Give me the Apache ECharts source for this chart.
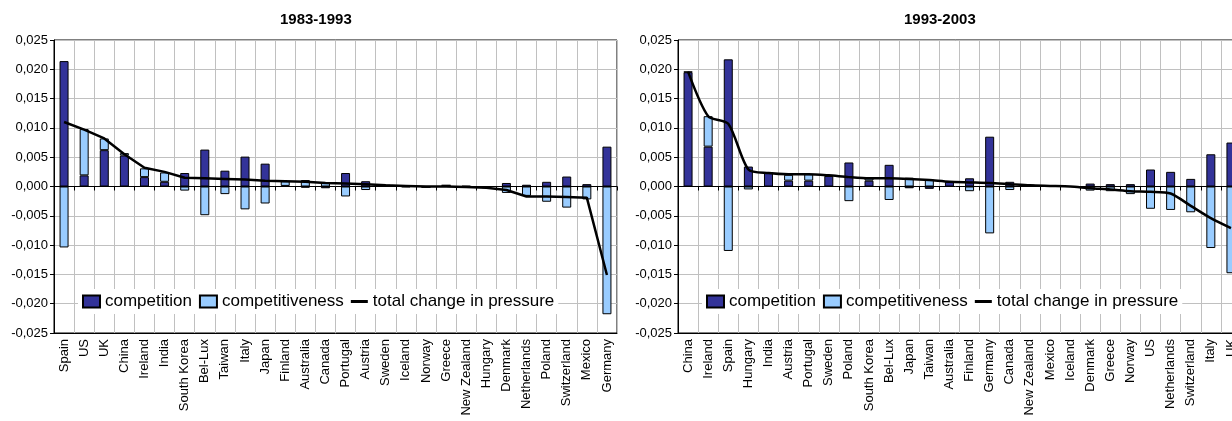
<!DOCTYPE html>
<html>
<head>
<meta charset="utf-8">
<script src="https://cdn.jsdelivr.net/npm/echarts@6/dist/echarts.min.js"></script>
<style>
html,body{margin:0;padding:0;background:#fff;}
#chart{width:1232px;height:421px;}
</style>
</head>
<body>
<div id="chart"></div>
<script>
// ---- Data ----
const titles = ['1983-1993', '1993-2003'];
const seriesNames = ['competition', 'competitiveness', 'total change in pressure'];

const categories1 = ['Spain','US','UK','China','Ireland','India','South Korea','Bel-Lux','Taiwan','Italy','Japan','Finland','Australia','Canada','Portugal','Austria','Sweden','Iceland','Norway','Greece','New Zealand','Hungary','Denmark','Netherlands','Poland','Switzerland','Mexico','Germany'];
const competition1 = [0.0214, 0.0019, 0.0062, 0.0053, 0.0016, 0.0008, 0.0023, 0.0063, 0.0027, 0.0051, 0.0039, 0.0001, -0.0002, -0.0003, 0.0023, 0.0009, 0.0002, 0.0001, -0.0001, 0.0002, 0.0001, -0.0001, 0.0006, 0.0003, 0.0008, 0.0017, 0.0004, 0.0068];
const competitiveness1 = [-0.0104, 0.0079, 0.0020, 0.0004, 0.0015, 0.0016, -0.0007, -0.0049, -0.0013, -0.0039, -0.0029, 0.0008, 0.0011, 0.0006, -0.0017, -0.0006, 0.0000, -0.0001, 0.0000, 0.0000, -0.0001, -0.0002, -0.0011, -0.0016, -0.0026, -0.0036, -0.0022, -0.0218];
const total1 = [0.0110, 0.0097, 0.0082, 0.0055, 0.0032, 0.0025, 0.0015, 0.0014, 0.0013, 0.0012, 0.0010, 0.0009, 0.0008, 0.0006, 0.0005, 0.0004, 0.0002, 0.0001, 0.0000, 0.0000, -0.0001, -0.0002, -0.0006, -0.0017, -0.0017, -0.0018, -0.0019, -0.0151];

const categories2 = ['China','Ireland','Spain','Hungary','India','Austria','Portugal','Sweden','Poland','South Korea','Bel-Lux','Japan','Taiwan','Australia','Finland','Germany','Canada','New Zealand','Mexico','Iceland','Denmark','Greece','Norway','US','Netherlands','Switzerland','Italy','UK'];
const competition2 = [0.0195, 0.0068, 0.0217, 0.0034, 0.0023, 0.0010, 0.0010, 0.0018, 0.0041, 0.0010, 0.0037, -0.0003, -0.0004, 0.0008, 0.0014, 0.0085, 0.0008, 0.0002, 0.0001, 0.0000, 0.0005, 0.0004, 0.0004, 0.0029, 0.0025, 0.0013, 0.0055, 0.0075];
const competitiveness2 = [0.0001, 0.0052, -0.0110, -0.0005, 0.0000, 0.0010, 0.0011, 0.0001, -0.0025, 0.0004, -0.0023, 0.0015, 0.0012, 0.0001, -0.0008, -0.0080, -0.0006, 0.0000, 0.0000, 0.0000, -0.0007, -0.0008, -0.0013, -0.0038, -0.0040, -0.0044, -0.0105, -0.0148];
const total2 = [0.0196, 0.0120, 0.0107, 0.0029, 0.0023, 0.0021, 0.0021, 0.0019, 0.0016, 0.0014, 0.0014, 0.0013, 0.0011, 0.0008, 0.0007, 0.0006, 0.0004, 0.0002, 0.0001, 0.0000, -0.0003, -0.0005, -0.0008, -0.0009, -0.0012, -0.0033, -0.0054, -0.0071];

const yMin = -0.025, yMax = 0.025, yStep = 0.005;

// ---- Chart ----
const FONT = "'Liberation Sans', Arial, sans-serif";
const chart = echarts.init(document.getElementById('chart'), null, {renderer: 'canvas'});

const LINE_ICON = 'path://M0,0 M17,12 M0,4.5 L17,4.5 L17,7.5 L0,7.5 Z';

const panels = [
  {cats: categories1, comp: competition1, compet: competitiveness1, total: total1, left: 54, right: 615, titleLeft: 280, legendLeft: 78, smooth: false},
  {cats: categories2, comp: competition2, compet: competitiveness2, total: total2, left: 678, right: -9, titleLeft: 904, legendLeft: 702, smooth: 0.25}
];

const grid = [], xAxis = [], yAxis = [], series = [], title = [], legend = [];
panels.forEach((p, i) => {
  grid.push({left: p.left, right: p.right, top: 40, bottom: 88, show: true, borderColor: '#000', borderWidth: 1,
    backgroundColor: 'transparent', containLabel: false, outerBoundsMode: 'none'});
  title.push({text: titles[i], left: p.titleLeft, top: 12, padding: 0,
    textStyle: {fontFamily: FONT, fontSize: 15, fontWeight: 'bold', color: '#000'}});
  // label axis at bottom
  xAxis.push({type: 'category', gridIndex: i, data: p.cats, position: 'bottom', boundaryGap: true,
    axisLine: {show: true, onZero: false, lineStyle: {color: '#000', width: 1}},
    axisTick: {show: false},
    splitLine: {show: true, lineStyle: {color: '#c0c0c0', width: 1}},
    axisLabel: {interval: 0, rotate: 90, margin: 6, fontFamily: FONT, fontSize: 13, color: '#000'}});
  // zero-line axis with ticks
  xAxis.push({type: 'category', gridIndex: i, data: p.cats, position: 'bottom', boundaryGap: true, z: 5,
    axisLine: {show: true, onZero: true, lineStyle: {color: '#000', width: 1}},
    axisTick: {show: true, length: 4, interval: 0, lineStyle: {color: '#000'}},
    splitLine: {show: false},
    axisLabel: {show: false}});
  yAxis.push({type: 'value', gridIndex: i, min: yMin, max: yMax, interval: yStep,
    axisLine: {show: true, lineStyle: {color: '#000', width: 1}},
    axisTick: {show: true, length: 4, lineStyle: {color: '#000'}},
    splitLine: {show: true, lineStyle: {color: '#c0c0c0', width: 1}},
    axisLabel: {margin: 6, fontFamily: FONT, fontSize: 13, color: '#000',
      formatter: v => (Math.abs(v) < 1e-9 ? 0 : v).toFixed(3).replace('.', ',')}});
  const xi = i * 2;
  series.push({name: seriesNames[0], type: 'bar', xAxisIndex: xi, yAxisIndex: i, stack: 'p' + i, data: p.comp,
    barWidth: 9, itemStyle: {color: '#333399', borderColor: '#000', borderWidth: 1}});
  series.push({name: seriesNames[1], type: 'bar', xAxisIndex: xi, yAxisIndex: i, stack: 'p' + i, data: p.compet,
    barWidth: 9, itemStyle: {color: '#99ccff', borderColor: '#000', borderWidth: 1}});
  series.push({name: seriesNames[2], type: 'line', xAxisIndex: xi, yAxisIndex: i, data: p.total, z: 6,
    symbol: 'none', smooth: p.smooth, lineStyle: {color: '#000', width: 2.5}, itemStyle: {color: '#000'}});
  legend.push({left: p.legendLeft, top: 289, orient: 'horizontal', padding: [4, 4, 4, 4], itemGap: 7,
    itemWidth: 17, itemHeight: 12, backgroundColor: '#fff',
    textStyle: {fontFamily: FONT, fontSize: 17, color: '#000'},
    data: [
      {name: seriesNames[0], icon: 'rect'},
      {name: seriesNames[1], icon: 'rect'},
      {name: seriesNames[2], icon: LINE_ICON, itemStyle: {color: '#000', borderWidth: 0}}
    ]});
});

chart.setOption({
  animation: false,
  backgroundColor: '#fff',
  title, grid, xAxis, yAxis, legend, series
});
</script>
</body>
</html>
